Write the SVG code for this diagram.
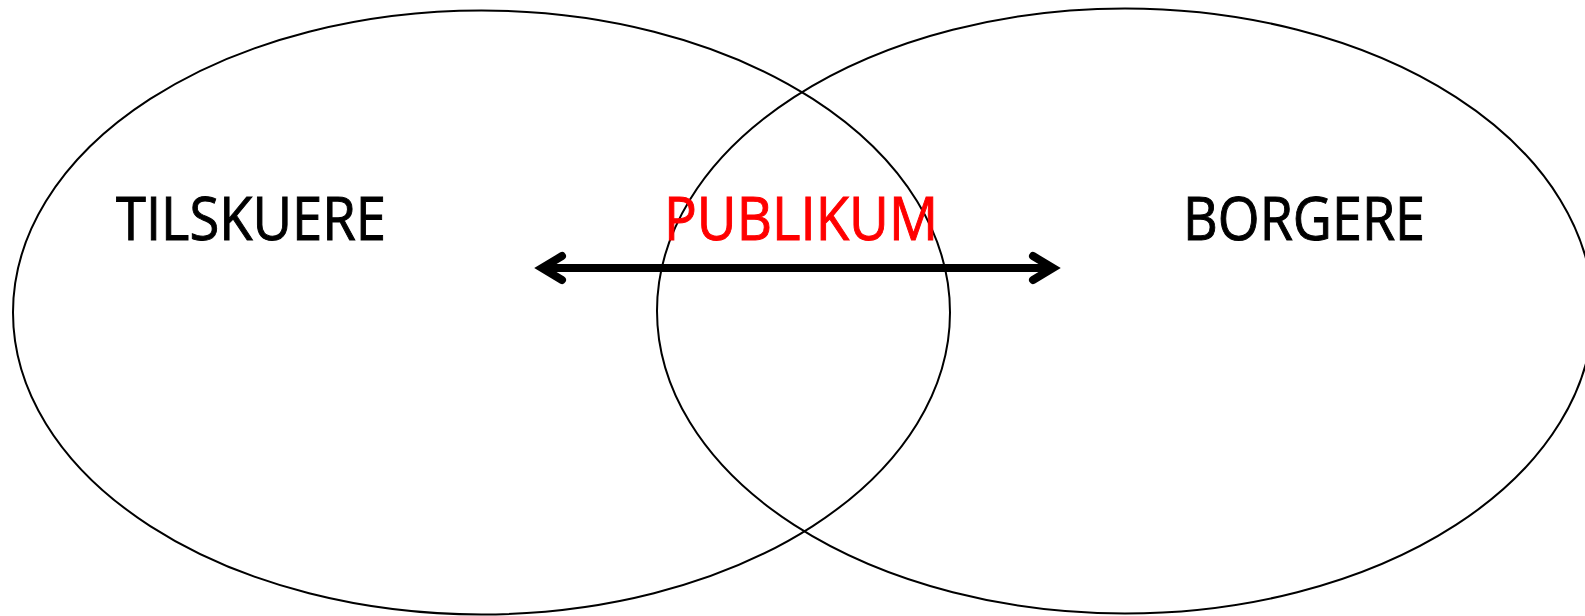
<svg xmlns="http://www.w3.org/2000/svg" width="1585" height="616" viewBox="0 0 1585 616">
<style>
.set{fill:none;stroke:#000;stroke-width:2}
.lbl{font-family:"Open Sans","Noto Sans","Liberation Sans",sans-serif;font-size:60px;stroke-width:1}
.arr{fill:none;stroke:#000;stroke-width:8;stroke-linecap:round;stroke-linejoin:miter;stroke-miterlimit:10}
</style>
<rect width="1585" height="616" fill="#fff"/>
<g id="tilskuere">
<ellipse class="set" cx="481.5" cy="312.5" rx="468.5" ry="302"/>
<text class="lbl" x="116" y="240" textLength="270" lengthAdjust="spacingAndGlyphs" fill="#000" stroke="#000">TILSKUERE</text>
</g>
<g id="borgere">
<ellipse class="set" cx="1125" cy="311" rx="468" ry="302.5"/>
<text class="lbl" x="1183" y="240" textLength="242" lengthAdjust="spacingAndGlyphs" fill="#000" stroke="#000">BORGERE</text>
</g>
<g id="publikum">
<text class="lbl" x="664" y="240" textLength="274" lengthAdjust="spacingAndGlyphs" fill="#ff0000" stroke="#ff0000">PUBLIKUM</text>
</g>
<g id="connectors">
<line class="arr" x1="545" y1="268" x2="1050" y2="268" stroke-linecap="butt"/>
<polyline class="arr" points="562,256 542,268 562,280"/>
<polyline class="arr" points="1033,256 1053,268 1033,280"/>
</g>
</svg>
